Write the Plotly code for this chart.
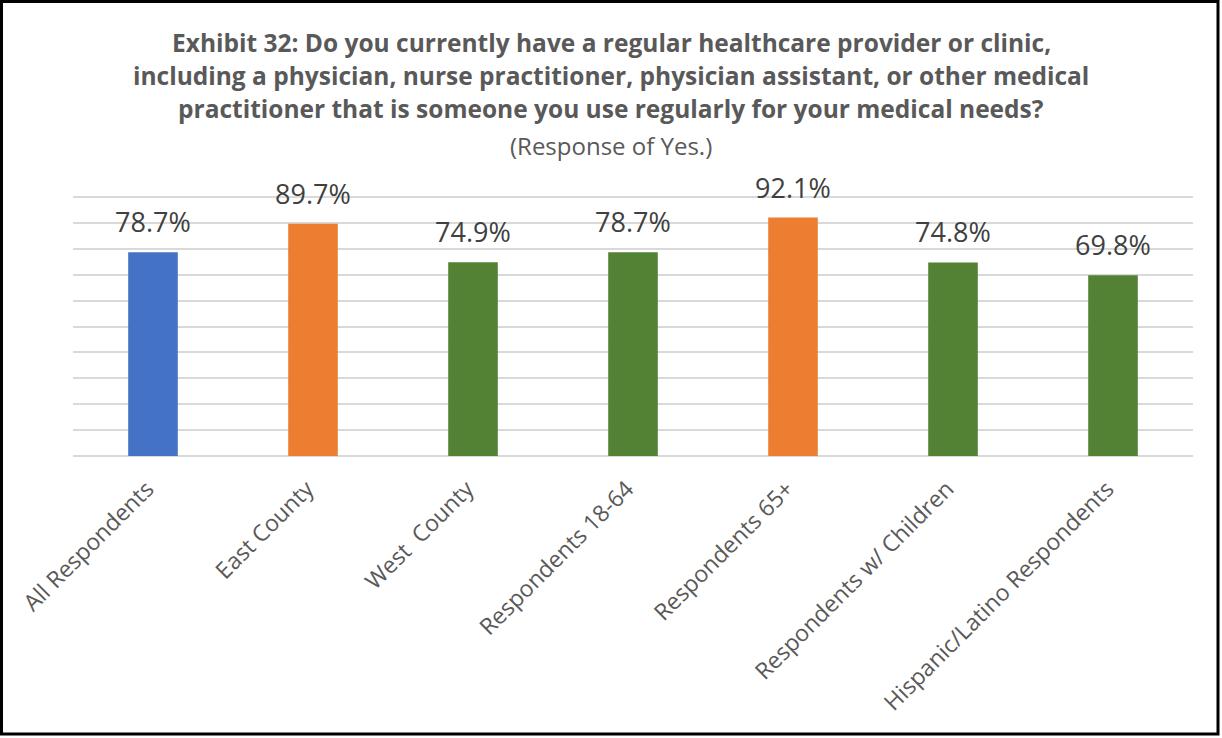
import plotly.graph_objects as go

# chart data
categories = ["All Respondents", "East County", "West  County", "Respondents 18-64",
              "Respondents 65+", "Respondents w/ Children", "Hispanic/Latino Respondents"]
values = [78.7, 89.7, 74.9, 78.7, 92.1, 74.8, 69.8]
bar_colors = ["#4472C4", "#ED7D31", "#548235", "#548235", "#ED7D31", "#548235", "#548235"]

title_lines = [
    "Exhibit 32: Do you currently have a regular healthcare provider or clinic,",
    "including a physician, nurse practitioner, physician assistant, or other medical",
    "practitioner that is someone you use regularly for your medical needs?",
]
subtitle = "(Response of Yes.)"

W, H = 1222, 738
ML, MR, MT, MB = 73, 29, 192, 282
FONT = "Open Sans"
pw, ph = W - ML - MR, H - MT - MB


def py(px_from_top):
    # pixel row -> paper y
    return (H - MB - px_from_top) / ph


fig = go.Figure()
fig.add_trace(go.Bar(
    x=categories,
    y=values,
    marker=dict(color=bar_colors, line=dict(width=0)),
    width=0.31,
    hoverinfo="x+y",
))

# value labels above the bars
for c, v in zip(categories, values):
    fig.add_annotation(
        x=c, y=v, text=f"{v:.1f}%", showarrow=False,
        yanchor="bottom", yshift=10,
        font=dict(family=FONT, size=27, color="#404040"),
    )

# title block
for txt, ypx in zip(title_lines, [42, 76, 109]):
    fig.add_annotation(
        xref="paper", yref="paper", x=(W / 2 - ML) / pw, y=py(ypx),
        text=f"<b>{txt}</b>", showarrow=False, xanchor="center", yanchor="middle",
        font=dict(family=FONT, size=24.5, color="#595959"),
    )
fig.add_annotation(
    xref="paper", yref="paper", x=(W / 2 - ML) / pw, y=py(145),
    text=subtitle, showarrow=False, xanchor="center", yanchor="middle",
    font=dict(family=FONT, size=24, color="#595959"),
)

fig.update_layout(
    width=W, height=H,
    margin=dict(l=ML, r=MR, t=MT, b=MB),
    paper_bgcolor="white",
    plot_bgcolor="white",
    showlegend=False,
    xaxis=dict(
        tickangle=-45,
        tickfont=dict(family=FONT, size=23, color="#595959"),
        ticklabelstandoff=14,
        ticklabelshift=-6,
        showgrid=False,
        showline=False,
        ticks="",
    ),
    yaxis=dict(
        range=[0, 102],
        tickvals=list(range(0, 101, 10)),
        showticklabels=False,
        showgrid=True,
        gridcolor="#D9D9D9",
        gridwidth=1.5,
        zeroline=True,
        zerolinecolor="#D9D9D9",
        zerolinewidth=2,
        ticks="",
    ),
)

# black frame round the whole picture
fig.add_shape(
    type="rect", xref="paper", yref="paper",
    x0=-(ML - 1.5) / pw, x1=1 + (MR - 4) / pw,
    y0=-(MB - 4) / ph, y1=1 + (MT - 1.5) / ph,
    line=dict(color="black", width=3),
    layer="above",
)

fig.write_html("out.html", config={"displayModeBar": False},
               post_script="document.body.style.margin='0';")
